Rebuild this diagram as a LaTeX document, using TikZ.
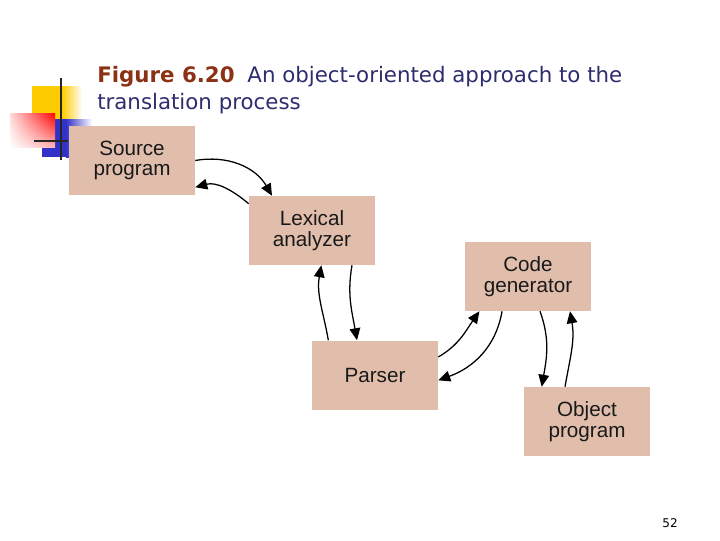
\documentclass[tikz,border=0pt]{standalone}
\usepackage{fontspec}
\setmainfont{Liberation Sans}
\newfontfamily\titlefont{DejaVu Sans}
\usetikzlibrary{arrows.meta,shadings}
\definecolor{boxfill}{RGB}{225,190,172}
\definecolor{figred}{RGB}{140,50,20}
\definecolor{titleblue}{RGB}{45,45,110}
\definecolor{ornyellow}{RGB}{255,204,0}
\definecolor{ornblue}{RGB}{50,50,200}
\begin{document}
\begin{tikzpicture}[x=0.75pt,y=0.75pt]

    \tikzset{
      box/.style={
        fill=boxfill,
        minimum width=94.5pt,
        minimum height=51.75pt,
        inner sep=0pt,
        align=center,
        text=black!90,
        font=\fontsize{15.5}{15.5}\selectfont,
      },
      flow/.style={
        line width=0.95pt,
        -{Triangle[length=9pt,width=8pt]},
      },
      heading/.style={
        anchor=base west,
        inner sep=0pt,
        text=titleblue,
        font=\titlefont\fontsize{16}{19}\selectfont,
      },
    }
    \useasboundingbox (0,0) rectangle (720,-540);

	% corner ornament
	\fill[ornyellow] (32,-86) rectangle (62,-120);
	\shade[left color=ornyellow, right color=white] (62,-86) rectangle (82,-120);
	\fill[ornblue] (42,-119) rectangle (66,-157);
	\shade[left color=ornblue, right color=white] (66,-119) rectangle (92,-157);
	\shade[upper left=red!15, upper right=red, lower left=white, lower right=red!30] (10,-113) rectangle (55,-147);
	\draw[line width=2.2pt, color=black!85] (61,-78) -- (61,-160);
	\draw[line width=2.2pt, color=black!85] (34,-141) -- (68,-141);

	\node[heading] (title1) at (97,-82) {\textcolor{figred}{\bfseries Figure 6.20}\hspace{0.6em}An object-oriented approach to the};
	\node[heading] (title2) at (97,-109) {translation process};

	\node[box] (src) at (132,-160.5) {Source\\program};
	\node[box] (lex) at (312,-230.5) {Lexical\\analyzer};
	\node[box] (cod) at (528,-276.5) {Code\\generator};
	\node[box] (par) at (375,-375) {Parser};
	\node[box] (obj) at (587,-421.5) {Object\\program};

	\draw[flow] (src.east) to[out=10,in=120] ([xshift=-30pt]lex.north);
	\draw[flow] ([yshift=-6pt]lex.north west) to[out=140,in=15] ([yshift=6pt]src.south east);
	\draw[flow] ([xshift=-35pt]par.north) to[out=100,in=-100] ([xshift=7pt]lex.south);
	\draw[flow] ([xshift=30pt]lex.south) to[out=-100,in=100] ([xshift=-13.5pt]par.north);
	\draw[flow] ([yshift=13.5pt]par.east) to[out=30,in=-125] ([xshift=11pt]cod.south west);
	\draw[flow] ([xshift=28pt]cod.south west) to[out=-100,in=20] ([yshift=-4pt]par.east);
	\draw[flow] ([xshift=9pt]cod.south) to[out=-70,in=80] ([xshift=-34pt]obj.north);
	\draw[flow] ([xshift=-16.5pt]obj.north) to[out=80,in=-80] ([xshift=31.5pt]cod.south);

	\node[font=\titlefont\fontsize{9}{10}\selectfont] (pnum) at (670,-523) {52};

\end{tikzpicture}
\end{document}
